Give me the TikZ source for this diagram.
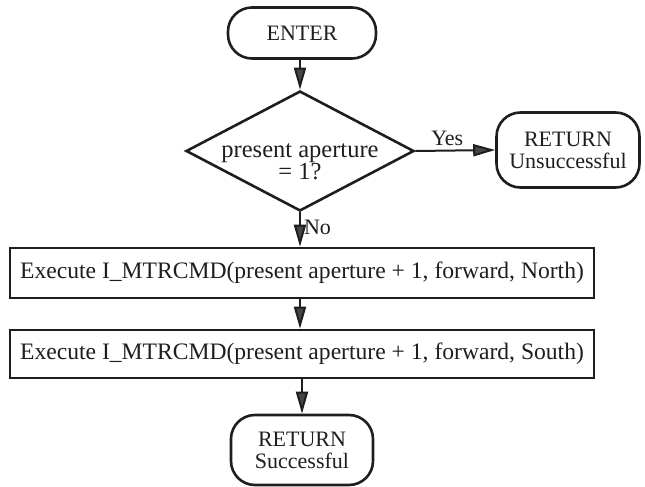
\documentclass[tikz,border=0pt]{standalone}
\usepackage{fontspec}
\setmainfont{Liberation Serif}
\usetikzlibrary{shapes.geometric,arrows.meta}
\definecolor{ink}{RGB}{30,30,30}
\definecolor{headfill}{RGB}{70,70,70}
\begin{document}
\begin{tikzpicture}[x=1pt,y=-1pt,
  every node/.style={font=\fontsize{22}{22}\selectfont, text=ink},
  terminal/.style={draw=ink, line width=2.6pt, rounded corners=24pt, align=center, inner sep=0pt},
  action/.style={draw=ink, line width=2.6pt, inner sep=0pt, font=\fontsize{23.6}{24}\selectfont},
  decision/.style={draw=ink, line width=2.6pt, diamond, inner sep=0pt},
  flow/.style={draw=ink, line width=2pt, -{Triangle[length=22pt,width=12pt,fill=headfill]}},
  lbl/.style={inner sep=0pt}]
\useasboundingbox (0,0) rectangle (645,487);

% terminals, decision and actions
\node[terminal, minimum width=148pt, minimum height=51pt] (enter) at (302,33) {ENTER};
\node[decision, minimum width=228pt, minimum height=120pt] (dec) at (300,151) {};
\node[lbl, align=center, font=\fontsize{24.5}{20}\selectfont] (dectext) at (300,162) {present aperture\\= 1?};
\node[terminal, minimum width=143pt, minimum height=75pt] (retfail) at (568,150) {RETURN\\Unsuccessful};
\node[action, minimum width=584pt, minimum height=50pt] (north) at (302,273)
  {Execute I\_MTRCMD(present aperture + 1, forward, North)};
\node[action, minimum width=584pt, minimum height=48pt] (south) at (302,354)
  {Execute I\_MTRCMD(present aperture + 1, forward, South)};
\node[terminal, minimum width=142pt, minimum height=70pt] (retok) at (302,450) {RETURN\\Successful};

% connectors
\draw[flow] (enter.south -| dec.north) -- (dec.north);
\draw[flow] (dec.east) -- node[lbl, above, pos=0.4, yshift=4pt] (yes) {Yes} (retfail.west);
\draw[flow] (dec.south) -- node[lbl, right, pos=0.45, xshift=3pt] (no) {No} (dec.south |- north.north);
\draw[flow] (north.south -| dec.south) -- (south.north -| dec.south);
\draw[flow] (south.south -| retok.north) -- (retok.north);
\end{tikzpicture}
\end{document}
